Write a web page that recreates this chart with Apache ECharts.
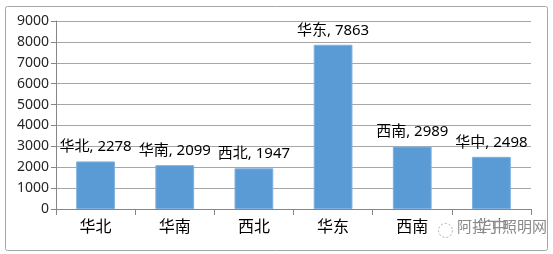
<!DOCTYPE html>
<html><head><meta charset="utf-8">
<script src="https://cdn.jsdelivr.net/npm/echarts@6/dist/echarts.min.js"></script>
<style>html,body{margin:0;padding:0;background:#fff}#c{width:553px;height:254px}</style>
</head><body><div id="c"></div>
<script>
const categories = ['华北','华南','西北','华东','西南','华中'];
const values = [2278, 2099, 1947, 7863, 2989, 2498];
const yTicks = [0,1000,2000,3000,4000,5000,6000,7000,8000,9000];
const watermark = '阿拉丁照明网';

const chart = echarts.init(document.getElementById('c'));
const ff = '"Noto Sans", "Noto Sans CJK SC", sans-serif';
chart.setOption({
  animation: false,
  graphic: [
    {type:'rect', left:3, top:4, shape:{width:542, height:244, r:2}, style:{fill:'none', stroke:'#a6a6a6', lineWidth:1}, z:-1},
    {type:'text', left:457, top:219, style:{text:watermark, font:'15px "Noto Sans CJK SC"', fill:'#8a8a8a', backgroundColor:'rgba(255,255,255,0.55)'}, z:10},
    {type:'circle', left:436, top:221, shape:{r:7}, style:{fill:'none', stroke:'#aaa', lineWidth:1, lineDash:[2,2]}, z:10}
  ],
  grid: {left:56, right:22, top:21, bottom:45},
  xAxis: {
    type:'category', data:categories,
    axisLine:{lineStyle:{color:'#868686'}},
    axisTick:{show:true, length:6, lineStyle:{color:'#868686'}},
    axisLabel:{fontSize:16, color:'#000', margin:10, fontFamily:ff}
  },
  yAxis: {
    type:'value', min:0, max:9000, interval:1000,
    axisLine:{show:true, lineStyle:{color:'#868686'}},
    axisTick:{show:true, length:5, lineStyle:{color:'#868686'}},
    splitLine:{lineStyle:{color:'#a6a6a6'}},
    axisLabel:{fontSize:14, color:'#262626', margin:7, fontFamily:ff,
      formatter: v => yTicks.includes(v) ? String(v) : ''}
  },
  series: [{
    type:'bar', data:values, barWidth:'49%',
    itemStyle:{color:'#5B9BD5', borderColor:'#7fb2e0', borderWidth:1},
    label:{show:true, position:'top', distance:7, fontSize:15, color:'#000', fontFamily:ff,
      formatter: p => p.name + ', ' + p.value}
  }]
});
</script></body></html>
